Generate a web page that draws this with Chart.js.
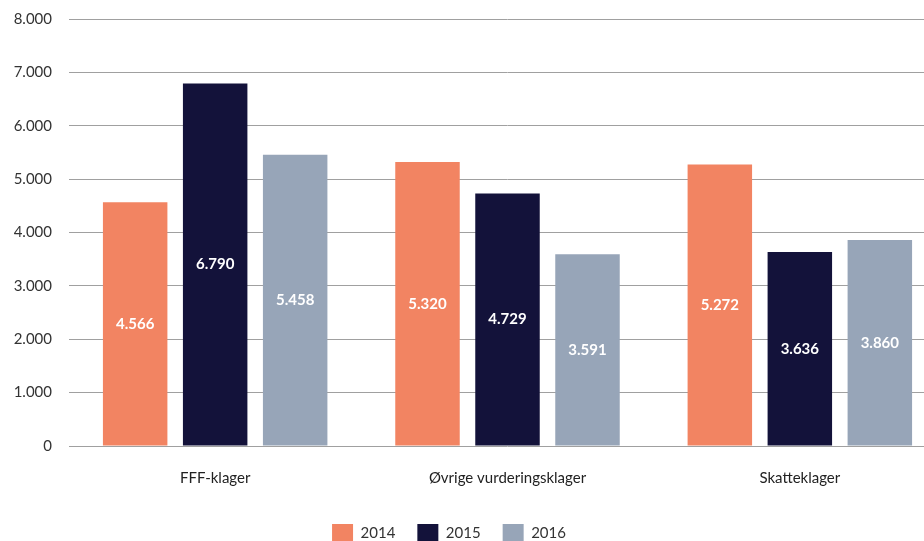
<!DOCTYPE html>
<html>
<head>
<meta charset="utf-8">
<script src="https://cdn.jsdelivr.net/npm/chart.js@4/dist/chart.umd.min.js"></script>
<style>
  html, body { margin: 0; padding: 0; background: #fff; overflow: hidden; }
  #wrap { width: 950px; height: 541px; position: relative; }
</style>
</head>
<body>
<div id="wrap"><canvas id="chart"></canvas></div>
<script>
var categories = ['FFF-klager', 'Øvrige vurderingsklager', 'Skatteklager'];
var years = ['2014', '2015', '2016'];
var v2014 = [4566, 5320, 5272];
var v2015 = [6790, 4729, 3636];
var v2016 = [5458, 3591, 3860];
var colors = ['#F28462', '#13123A', '#97A5B8'];

var fmt = function (n) { return n.toLocaleString('da-DK'); };

var barLabels = {
  id: 'barLabels',
  afterDatasetsDraw: function (chart) {
    var ctx = chart.ctx;
    ctx.save();
    ctx.fillStyle = '#fff';
    ctx.font = 'bold 15px Lato';
    ctx.textAlign = 'center';
    ctx.textBaseline = 'middle';
    chart.data.datasets.forEach(function (ds, i) {
      chart.getDatasetMeta(i).data.forEach(function (bar, j) {
        var mid = (bar.y + bar.base) / 2;
        ctx.fillText(fmt(ds.data[j]), bar.x, mid);
      });
    });
    ctx.restore();
  }
};

// legend sits a bit left of the canvas centre and close to the bottom edge
var legendShift = {
  id: 'legendShift',
  afterLayout: function (chart) {
    var lg = chart.legend;
    var w = lg.right - lg.left;
    lg.left = 449 - w / 2;
    lg.right = 449 + w / 2;
    lg.top += 12;
    lg.bottom += 12;
  }
};

new Chart(document.getElementById('chart'), {
  type: 'bar',
  data: {
    labels: categories,
    datasets: [
      { label: years[0], data: v2014, backgroundColor: colors[0] },
      { label: years[1], data: v2015, backgroundColor: colors[1] },
      { label: years[2], data: v2016, backgroundColor: colors[2] }
    ]
  },
  plugins: [barLabels, legendShift],
  options: {
    responsive: true,
    maintainAspectRatio: false,
    animation: false,
    categoryPercentage: 0.821,
    barPercentage: 0.806,
    layout: { padding: { top: 19, right: 4, left: 0, bottom: 0 } },
    plugins: {
      tooltip: { enabled: false },
      legend: {
        position: 'bottom',
        labels: {
          boxWidth: 21,
          boxHeight: 19,
          padding: 22,
          color: '#333',
          font: { family: 'Lato', size: 15 }
        }
      }
    },
    scales: {
      x: {
        grid: { display: false, drawTicks: false },
        border: { display: false },
        ticks: { color: '#222', padding: 23, font: { family: 'Lato', size: 15 } },
        afterFit: function (s) { s.height = 44; }
      },
      y: {
        min: 0,
        max: 8000,
        ticks: {
          stepSize: 1000,
          padding: 17,
          color: '#333',
          font: { family: 'Lato', size: 15 },
          callback: function (v) { return fmt(v); }
        },
        grid: { color: '#a0a0a0', lineWidth: 1, drawTicks: false },
        border: { display: false },
        afterFit: function (s) { s.width = 69; s.paddingTop = 0; s.paddingBottom = 0; }
      }
    }
  }
});
</script>
</body>
</html>
